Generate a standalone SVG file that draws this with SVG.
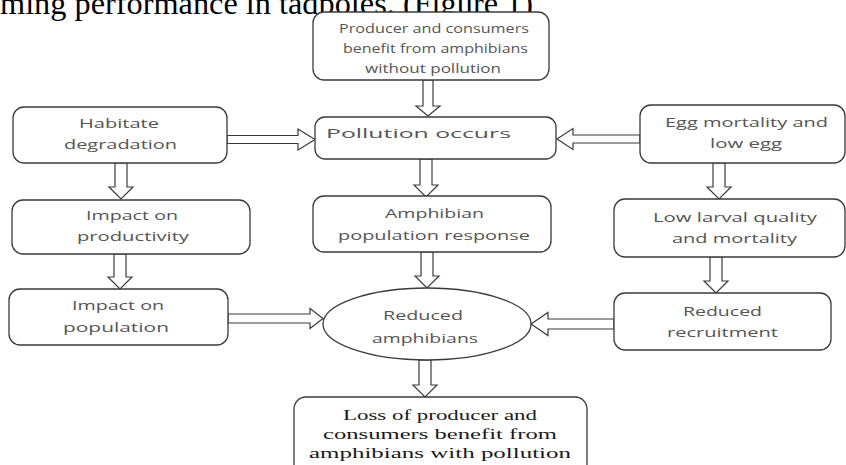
<svg xmlns="http://www.w3.org/2000/svg" width="846" height="465" viewBox="0 0 846 465">
<style>
.box{fill:#fff;stroke:#3a3a3a;stroke-width:1.3}
.arr{fill:#fff;stroke:#3a3a3a;stroke-width:1.2;stroke-linejoin:miter}
.t{font-family:"Open Sans","Liberation Sans",sans-serif;font-size:13.5px;fill:#555;text-anchor:middle}
.ts{font-family:"Open Sans","Liberation Sans",sans-serif;font-size:12px;fill:#555;text-anchor:middle}
.tr{font-family:"Liberation Serif","Times New Roman",serif;font-size:15px;fill:#1a1a1a;text-anchor:middle}
.title{font-family:"Liberation Serif","Times New Roman",serif;font-size:32px;fill:#000}
</style>
<rect width="846" height="465" fill="#fff"/>
<text class="title" x="0" y="14" textLength="533" lengthAdjust="spacingAndGlyphs">ming performance in tadpoles. (Figure 1)</text>

<g id="connectors">
<polygon class="arr" points="423,80 433,80 433,106 440,106 428,116 416,106 423,106"/>
<polygon class="arr" points="115,163 127,163 127,187 133,187 121,199 109,187 115,187"/>
<polygon class="arr" points="420,159 432,159 432,185 438,185 426,197 414,185 420,185"/>
<polygon class="arr" points="713,163 725,163 725,187 731,187 719,199 707,187 713,187"/>
<polygon class="arr" points="114,254 126,254 126,277 132,277 120,289 108,277 114,277"/>
<polygon class="arr" points="421,252 433,252 433,276 439,276 427,288 415,276 421,276"/>
<polygon class="arr" points="710,257 722,257 722,281 728,281 716,293 704,281 710,281"/>
<polygon class="arr" points="419,360 431,360 431,385 437,385 425,397 413,385 419,385"/>
<polygon class="arr" points="227,135.5 298,135.5 298,129 315,139.5 298,150 298,143.5 227,143.5"/>
<polygon class="arr" points="640,135 573,135 573,128.5 557,139 573,149.5 573,143 640,143"/>
<polygon class="arr" points="228,314 310,314 310,308.5 323,318.5 310,328.5 310,323 228,323"/>
<polygon class="arr" points="614,319 548,319 548,312.5 531,324 548,335.5 548,329 614,329"/>
</g>

<g id="n-top">
<rect class="box" x="313" y="12" width="236" height="68" rx="11"/>
<text class="ts" x="434" y="33" textLength="190" lengthAdjust="spacingAndGlyphs">Producer and consumers</text>
<text class="ts" x="435.5" y="53" textLength="185" lengthAdjust="spacingAndGlyphs">benefit from amphibians</text>
<text class="ts" x="433" y="73" textLength="136" lengthAdjust="spacingAndGlyphs">without pollution</text>
</g>
<g id="n-habitat">
<rect class="box" x="13" y="107" width="214" height="56" rx="11"/>
<text class="t" x="119" y="128" textLength="80" lengthAdjust="spacingAndGlyphs">Habitate</text>
<text class="t" x="120.5" y="149" textLength="113" lengthAdjust="spacingAndGlyphs">degradation</text>
</g>
<g id="n-pollution">
<rect class="box" x="315" y="117" width="241" height="42" rx="10"/>
<text class="t" x="418.5" y="138" textLength="185" lengthAdjust="spacingAndGlyphs">Pollution occurs</text>
</g>
<g id="n-egg">
<rect class="box" x="640" y="105" width="205" height="58" rx="11"/>
<text class="t" x="746.5" y="127" textLength="163" lengthAdjust="spacingAndGlyphs">Egg mortality and</text>
<text class="t" x="746" y="148" textLength="72" lengthAdjust="spacingAndGlyphs">low egg</text>
</g>
<g id="n-productivity">
<rect class="box" x="12" y="200" width="238" height="54" rx="11"/>
<text class="t" x="132" y="220" textLength="92" lengthAdjust="spacingAndGlyphs">Impact on</text>
<text class="t" x="133" y="241" textLength="112" lengthAdjust="spacingAndGlyphs">productivity</text>
</g>
<g id="n-response">
<rect class="box" x="313" y="196" width="238" height="56" rx="11"/>
<text class="t" x="434.5" y="218" textLength="99" lengthAdjust="spacingAndGlyphs">Amphibian</text>
<text class="t" x="434" y="240" textLength="192" lengthAdjust="spacingAndGlyphs">population response</text>
</g>
<g id="n-larval">
<rect class="box" x="614" y="199" width="231" height="58" rx="11"/>
<text class="t" x="735" y="222" textLength="164" lengthAdjust="spacingAndGlyphs">Low larval quality</text>
<text class="t" x="734.5" y="243" textLength="125" lengthAdjust="spacingAndGlyphs">and mortality</text>
</g>
<g id="n-population">
<rect class="box" x="9" y="289" width="219" height="56" rx="11"/>
<text class="t" x="118" y="310" textLength="92" lengthAdjust="spacingAndGlyphs">Impact on</text>
<text class="t" x="116" y="332" textLength="106" lengthAdjust="spacingAndGlyphs">population</text>
</g>
<g id="n-reduced">
<ellipse class="box" cx="427" cy="324" rx="104" ry="36"/>
<text class="t" x="423" y="320" textLength="80" lengthAdjust="spacingAndGlyphs">Reduced</text>
<text class="t" x="425" y="343" textLength="106" lengthAdjust="spacingAndGlyphs">amphibians</text>
</g>
<g id="n-recruitment">
<rect class="box" x="614" y="293" width="217" height="57" rx="11"/>
<text class="t" x="722.5" y="316" textLength="79" lengthAdjust="spacingAndGlyphs">Reduced</text>
<text class="t" x="722.5" y="337" textLength="111" lengthAdjust="spacingAndGlyphs">recruitment</text>
</g>
<g id="n-loss">
<rect class="box" x="294" y="397" width="293" height="85" rx="12"/>
<text class="tr" x="440" y="420" textLength="194" lengthAdjust="spacingAndGlyphs">Loss of producer and</text>
<text class="tr" x="440" y="439" textLength="234" lengthAdjust="spacingAndGlyphs">consumers benefit from</text>
<text class="tr" x="440" y="458" textLength="262" lengthAdjust="spacingAndGlyphs">amphibians with pollution</text>
</g>
</svg>
